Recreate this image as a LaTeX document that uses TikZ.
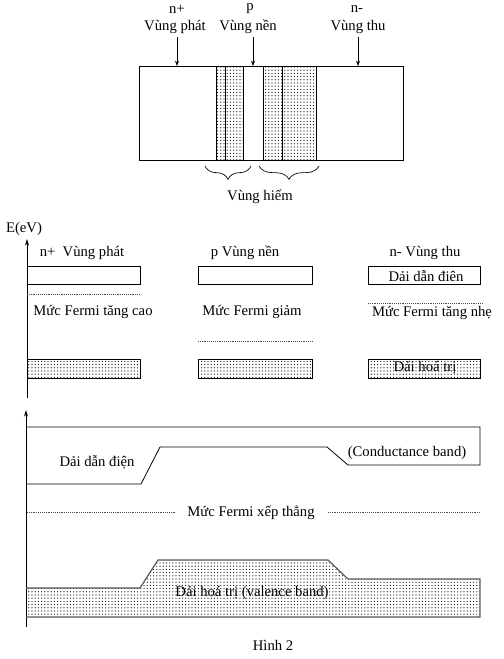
\documentclass[tikz,border=0pt]{standalone}
\usepackage{fontspec}
\setmainfont{Liberation Serif}
\usetikzlibrary{patterns.meta,decorations.pathreplacing,arrows.meta}
\begin{document}
\begin{tikzpicture}[x=0.75pt,y=-0.75pt,
  lbl/.style={font=\fontsize{11}{13}\selectfont, inner sep=0pt},
  dotfill/.style={pattern={Dots[distance=2.4pt,radius=0.45pt]}},
  fermi/.style={densely dotted, line width=0.4pt, black!70},
  arr/.style={-{Stealth[length=4pt,width=3pt]}, line width=0.5pt},
  axisline/.style={-{Stealth[length=5pt,width=3pt]}, line width=0.7pt},
  brc/.style={decorate, decoration={brace,mirror,amplitude=10pt}, line width=0.5pt},
  edge/.style={line width=0.6pt},
  valedge/.style={line width=0.9pt, draw=black!65},
  line width=0.6pt]
\useasboundingbox (0,0) rectangle (503,659);

% ---------- top: structure ----------
\node[lbl] (np) at (177,9) {n+};
\node[lbl] (vp) at (175,27) {Vùng phát};
\node[lbl] (pp) at (250,9) {p};
\node[lbl] (vn) at (248,27) {Vùng nền};
\node[lbl] (nm) at (357,9) {n-};
\node[lbl] (vt) at (358,27) {Vùng thu};
\coordinate (a1) at (177,37); \coordinate (b1) at (177,66);
\coordinate (a2) at (253,37); \coordinate (b2) at (253,66);
\coordinate (a3) at (358,37); \coordinate (b3) at (358,66);
\draw[arr] (a1) -- (b1);
\draw[arr] (a2) -- (b2);
\draw[arr] (a3) -- (b3);

\draw[dotfill] (216,66) rectangle (225,160);
\draw[dotfill] (225,66) rectangle (243,160);
\draw[dotfill] (263,66) rectangle (282,160);
\draw[dotfill] (282,66) rectangle (316,160);
\draw[edge] (139,66) rectangle (403,160);

\coordinate (br1s) at (205,166); \coordinate (br1e) at (251,166);
\coordinate (br2s) at (259,166); \coordinate (br2e) at (319,166);
\draw[brc] (br1s) -- (br1e);
\draw[brc] (br2s) -- (br2e);
\node[lbl] (vh) at (260,197) {Vùng hiếm};

% ---------- middle: separate bands ----------
\coordinate (ax1b) at (27,398); \coordinate (ax1t) at (27,239);
\draw[axisline] (ax1b) -- (ax1t);
\node[lbl] (ev) at (24,229) {E(eV)};

\node[lbl] (l1) at (82,253) {n+\ \ Vùng phát};
\node[lbl] (l2) at (245,253) {p Vùng nền};
\node[lbl] (l3) at (425,253) {n- Vùng thu};

\draw[edge] (27,266) rectangle (140,284);
\draw[edge] (198,266) rectangle (312,284);
\draw[edge] (368,266) rectangle (480,284);
\node[lbl, anchor=base] (dd3) at (426,281) {Dải dẫn điên};

\draw[fermi] (27,294) -- (140,294);
\draw[fermi] (198,341) -- (312,341);
\draw[fermi] (368,303) -- (482,303);

\node[lbl] (f1) at (93,312) {Mức Fermi tăng cao};
\node[lbl] (f2) at (252,312) {Mức Fermi giảm};
\node[lbl] (f3) at (432,313) {Mức Fermi tăng nhẹ};

\draw[edge,dotfill] (27,359) rectangle (140,378);
\draw[edge,dotfill] (198,359) rectangle (312,378);
\draw[edge,dotfill] (368,359) rectangle (480,378);
\node[lbl] (ht3) at (425,368) {Dải hoá trị};

% ---------- bottom: aligned bands ----------
\coordinate (ax2b) at (26,627); \coordinate (ax2t) at (26,410);
\draw[axisline] (ax2b) -- (ax2t);

\draw[edge] (26,427) -- (480,427) -- (480,465) -- (348,465) -- (327,447)
  -- (160,447) -- (141,484) -- (26,484);
\node[lbl] (cb1) at (97,462) {Dải dẫn điện};
\node[lbl] (cb2) at (407,453) {(Conductance band)};

\node[lbl] (fa) at (251,513) {Mức Fermi xếp thẳng};
\draw[fermi] (27,512) -- (175,512);
\draw[fermi] (328,512) -- (480,512);

\fill[dotfill] (26,588) -- (140,588) -- (158,560) -- (328,560) -- (348,579)
  -- (480,579) -- (480,617) -- (26,617) -- cycle;
\draw[valedge] (26,588) -- (140,588) -- (158,560) -- (328,560) -- (348,579)
  -- (480,579) -- (480,617) -- (26,617);
\node[lbl] (vb) at (252,593) {Dải hoá trị (valence band)};

\node[lbl] (cap) at (273,645) {Hình 2};
\end{tikzpicture}
\end{document}
